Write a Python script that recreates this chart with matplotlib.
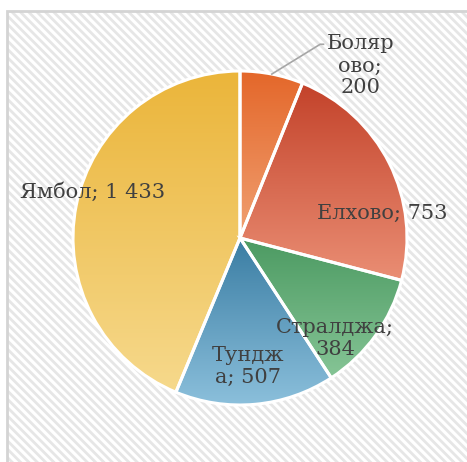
import numpy as np
import matplotlib.pyplot as plt
from matplotlib.patches import Rectangle
from matplotlib.colors import LinearSegmentedColormap

# data
names = ["Болярово", "Елхово", "Стралджа", "Тунджа", "Ямбол"]
values = [200, 753, 384, 507, 1433]
labels = ["Боляр\nово;\n200", "Елхово; 753", "Стралджа;\n384", "Тундж\nа; 507", "Ямбол; 1 433"]

# gradient colours per slice (top, bottom)
top_colors = ["#E4672A", "#C3422A", "#4C9A62", "#3A7DA3", "#EBB53A"]
bottom_colors = ["#F0A072", "#EA8E74", "#86C596", "#8CC0DC", "#F6D98C"]

# label positions in pie units
label_pos = [(0.72, 1.03), (0.85, 0.15), (0.57, -0.60), (0.05, -0.77), (-0.88, 0.275)]

plt.rcParams['hatch.linewidth'] = 2.0
fig = plt.figure(figsize=(4.67, 4.62), dpi=100)

# hatched background with light frame
bg = Rectangle((7 / 467, -0.1), 1.1, 1 - 11 / 462 + 0.1, transform=fig.transFigure,
               facecolor="white", edgecolor="#e6e6e6", hatch="\\\\\\\\", linewidth=0,
               zorder=-2)
fig.patches.append(bg)
frame = Rectangle((7 / 467, -0.1), 1.1, 1 - 11 / 462 + 0.1, transform=fig.transFigure,
                  facecolor="none", edgecolor="#d4d4d4", linewidth=2, zorder=-1)
fig.patches.append(frame)

ax = fig.add_axes([73 / 467, 57 / 462, 334 / 467, 334 / 462])
ax.set_facecolor("none")

wedges, _ = ax.pie(values, startangle=90, counterclock=False, radius=1,
                   wedgeprops=dict(edgecolor="white", linewidth=2.2, facecolor="none"))

for w, c1, c2 in zip(wedges, top_colors, bottom_colors):
    path = w.get_path()
    verts = w.get_patch_transform().transform(path.vertices)
    x0, y0 = verts.min(axis=0)
    x1, y1 = verts.max(axis=0)
    cmap = LinearSegmentedColormap.from_list("g", [c1, c2])
    grad = np.linspace(0, 1, 256).reshape(-1, 1)
    im = ax.imshow(grad, cmap=cmap, extent=(x0, x1, y0, y1), aspect="auto",
                   origin="upper", zorder=0.5)
    im.set_clip_path(w)
    w.set_zorder(1)

for (lx, ly), txt in zip(label_pos, labels):
    ax.text(lx, ly, txt, ha="center", va="center", fontsize=15,
            family="DejaVu Serif", color="#404040", linespacing=1.2, zorder=3)

# leader line for the small slice
ang = np.deg2rad(90 - 360 * values[0] / sum(values) / 2)
ax.plot([np.cos(ang), 0.48, 0.5], [np.sin(ang), 1.16, 1.16], color="#a6a6a6", lw=1.2,
        clip_on=False, zorder=3)

ax.set_xlim(-1, 1)
ax.set_ylim(-1, 1)
ax.set_aspect("equal")
ax.axis("off")

fig.savefig("out.png", dpi=100)
